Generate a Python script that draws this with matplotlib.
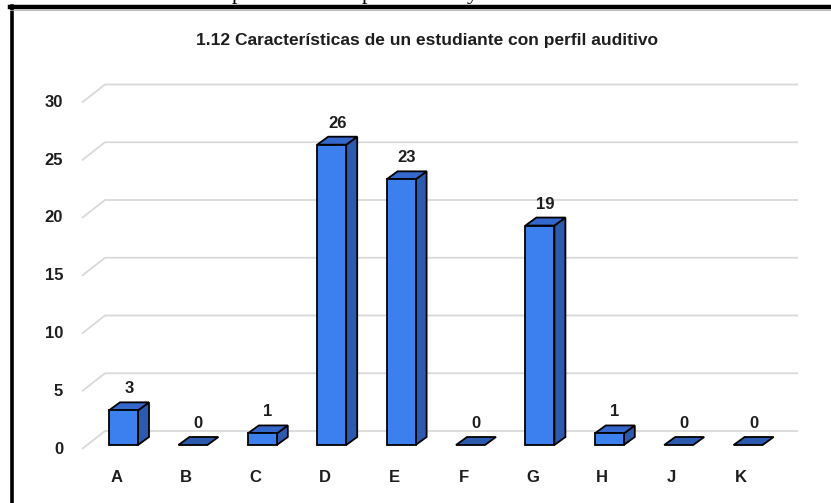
import matplotlib
matplotlib.use("agg")
import matplotlib.pyplot as plt
from matplotlib.patches import Polygon
from matplotlib.lines import Line2D

# data
categories = ["A", "B", "C", "D", "E", "F", "G", "H", "J", "K"]
values = [3, 0, 1, 26, 23, 0, 19, 1, 0, 0]
y_ticks = [0, 5, 10, 15, 20, 25, 30]
title = "1.12 Características de un estudiante con perfil auditivo"

W, H = 831, 503
# pixel scale of the fake 3d chart
PX_CAT = 69.4      # px per category
PX_UNIT = 11.55    # px per value unit
X0_PX = 123.5      # centre of first bar
Y0_PX = 445.0      # base of bars (front)
HALF_W = 14.5 / PX_CAT
DX = 11.0 / PX_CAT   # depth offset
DY = 8.0 / PX_UNIT

FRONT = "#3C80EE"
SIDE = "#2C5AAE"
TOP = "#3568CC"
GRID = "#D9D9D9"
TXT = "#1E1E1E"

plt.rcParams['font.family'] = ['Liberation Sans Narrow', 'Liberation Sans', 'DejaVu Sans']

fig = plt.figure(figsize=(W / 100, H / 100), dpi=100)
ax = fig.add_axes([0, 0, 1, 1])
ax.set_xlim(-X0_PX / PX_CAT, (W - X0_PX) / PX_CAT)
ax.set_ylim((Y0_PX - H) / PX_UNIT, Y0_PX / PX_UNIT)
ax.axis('off')

# gridlines: short diagonal on the side wall then across the back wall
front_off = -4.0 / PX_UNIT
back_off = 14.0 / PX_UNIT
gx_front = (82 - X0_PX) / PX_CAT
gx_back = (105 - X0_PX) / PX_CAT
gx_end = (798 - X0_PX) / PX_CAT
for v in y_ticks:
    ax.plot([gx_front, gx_back, gx_end], [v + front_off, v + back_off, v + back_off],
            color=GRID, lw=1.3, zorder=1, solid_capstyle='butt')
    ax.text((63 - X0_PX) / PX_CAT, v + front_off, str(v), ha='right', va='center',
            fontsize=12, fontweight='bold', color=TXT)

# bars
for i, v in enumerate(values):
    xl, xr = i - HALF_W, i + HALF_W
    kw = dict(ec='black', lw=1.3, joinstyle='miter', zorder=3)
    if v > 0:
        ax.add_patch(Polygon([(xr, 0), (xr + DX, DY), (xr + DX, v + DY), (xr, v)],
                             closed=True, fc=SIDE, **kw))
        ax.add_patch(Polygon([(xl, v), (xr, v), (xr + DX, v + DY), (xl + DX, v + DY)],
                             closed=True, fc=TOP, **kw))
        ax.add_patch(Polygon([(xl, 0), (xr, 0), (xr, v), (xl, v)],
                             closed=True, fc=FRONT, **kw))
    else:
        ax.add_patch(Polygon([(xl, 0), (xr, 0), (xr + DX, DY), (xl + DX, DY)],
                             closed=True, fc=SIDE, **kw))
    ax.text(i + DX / 2, v + DY + 6 / PX_UNIT, str(v), ha='center', va='bottom',
            fontsize=12, fontweight='bold', color=TXT)
    ax.text(i - 7 / PX_CAT, (Y0_PX - 477) / PX_UNIT, categories[i], ha='center', va='center',
            fontsize=12, fontweight='bold', color=TXT)

fig.text(427 / W, 1 - 40 / H, title, ha='center', va='center',
         fontsize=12.5, fontweight='bold', color=TXT)

# frame of the pasted chart (left and top edges)
fig.add_artist(Line2D([11.5 / W, 11.5 / W], [0, 1 - 6 / H], color='black', lw=2.6,
                      transform=fig.transFigure))
fig.add_artist(Line2D([10 / W, 1], [1 - 7 / H, 1 - 7 / H], color='black', lw=3.2,
                      transform=fig.transFigure))
fig.add_artist(Line2D([10 / W, 1], [1 - 10 / H, 1 - 10 / H], color='#B0B0B0', lw=0.6,
                      transform=fig.transFigure))

# descenders of the document text cut off above the chart
for xp, ch in [(237, "p"), (367, "p"), (472, "y")]:
    fig.text(xp / W, 1 + 1 / H, ch, ha='center', va='baseline', fontsize=16,
             family='Liberation Serif', color='black')

fig.savefig("out.png", dpi=100)
